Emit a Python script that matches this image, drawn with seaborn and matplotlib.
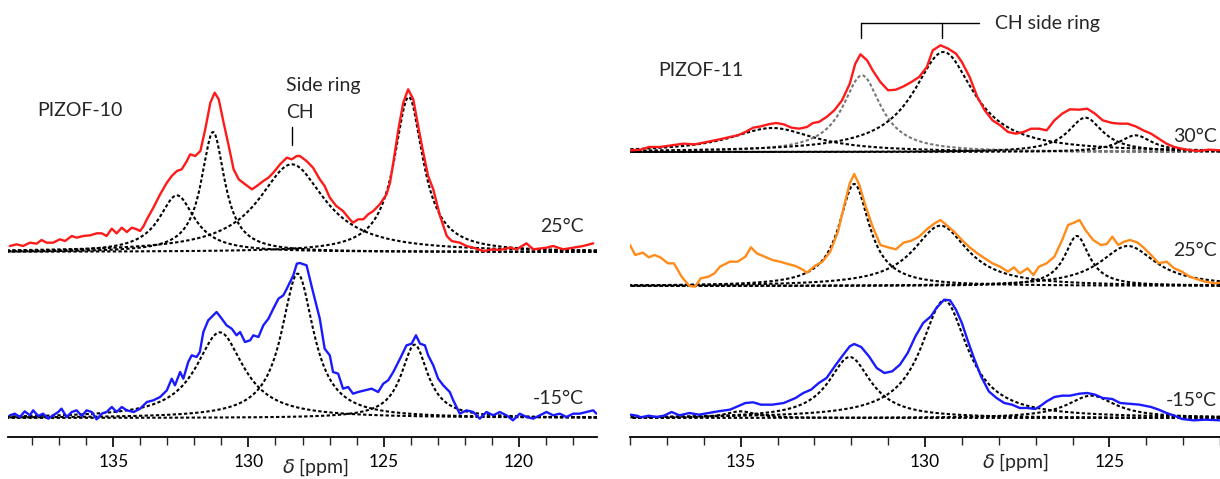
import numpy as np
import pandas as pd
import matplotlib
matplotlib.use("Agg")
import matplotlib.pyplot as plt
import seaborn as sns
from matplotlib.ticker import MultipleLocator

# ---- PIZOF-10 spectra (ppm, intensity in arbitrary units) ----
p10_25_ppm = [138.83, 138.58, 138.34, 138.09, 137.84, 137.66, 137.47, 137.23, 136.98, 136.79,
              136.54, 136.36, 136.11, 135.86, 135.62, 135.43, 135.25, 135.06, 134.88, 134.69,
              134.50, 134.32, 134.13, 134.01, 133.88, 133.76, 133.52, 133.27, 133.02, 132.84,
              132.65, 132.47, 132.28, 132.16, 131.97, 131.78, 131.60, 131.41, 131.25, 131.10,
              130.92, 130.73, 130.55, 130.36, 130.12, 129.87, 129.69, 129.45, 129.26, 129.08,
              128.83, 128.58, 128.40, 128.21, 128.10, 127.85, 127.61, 127.36, 127.18, 126.99,
              126.75, 126.50, 126.25, 126.13, 125.94, 125.75, 125.57, 125.38, 125.14, 124.89,
              124.76, 124.64, 124.45, 124.27, 124.09, 123.90, 123.72, 123.53, 123.35, 123.16,
              122.91, 122.66, 122.48, 122.18, 121.93, 121.68, 121.31, 120.94, 120.70, 120.33,
              120.08, 119.71, 119.46, 118.97, 118.72, 118.35, 117.98, 117.61, 117.24]
p10_25_int = [18, 23, 18, 28, 25, 36, 28, 28, 38, 33,
              48, 43, 48, 50, 56, 56, 48, 70, 56, 73,
              60, 73, 68, 63, 78, 98, 133, 173, 208, 228,
              243, 248, 273, 293, 288, 303, 368, 448, 478, 458,
              388, 318, 248, 218, 203, 188, 198, 213, 223, 238,
              263, 283, 278, 288, 288, 273, 253, 218, 198, 163,
              138, 123, 98, 88, 98, 98, 113, 123, 143, 173,
              208, 268, 368, 448, 488, 458, 378, 298, 228, 188,
              108, 48, 33, 28, 18, 13, 3, 8, 6, 13,
              8, 26, 8, 13, 18, 8, 13, 18, 26]

p10_m15_ppm = [138.83, 138.65, 138.46, 138.28, 138.09, 137.97, 137.78, 137.60, 137.41, 137.23,
               137.04, 136.92, 136.73, 136.54, 136.36, 136.17, 135.99, 135.80, 135.62, 135.43,
               135.25, 135.06, 134.88, 134.69, 134.50, 134.25, 134.01, 133.76, 133.52, 133.27,
               133.02, 132.84, 132.72, 132.53, 132.41, 132.23, 132.10, 131.92, 131.80, 131.67,
               131.49, 131.18, 130.99, 130.81, 130.62, 130.44, 130.31, 130.13, 129.94, 129.82,
               129.63, 129.45, 129.26, 129.08, 128.89, 128.71, 128.58, 128.34, 128.21, 128.10,
               127.85, 127.61, 127.36, 127.18, 126.99, 126.87, 126.68, 126.50, 126.31, 126.13,
               125.94, 125.69, 125.44, 125.20, 125.01, 124.83, 124.64, 124.39, 124.15, 123.96,
               123.80, 123.65, 123.47, 123.35, 123.16, 122.98, 122.79, 122.55, 122.42, 122.30,
               122.18, 121.93, 121.68, 121.44, 121.19, 120.94, 120.70, 120.45, 120.21, 119.96,
               119.71, 119.46, 119.22, 118.97, 118.72, 118.48, 118.23, 117.98, 117.74, 117.49,
               117.24, 117.12]
p10_m15_int = [8, 13, 3, 20, 8, 23, 6, 13, -2, 8,
               18, 28, 3, 18, 23, 6, 23, 18, -4, 13,
               18, 33, 18, 33, 23, 18, 28, 48, 53, 63,
               83, 118, 98, 138, 118, 168, 188, 183, 198, 258,
               293, 318, 298, 278, 268, 248, 258, 228, 233, 248,
               243, 278, 298, 328, 358, 368, 388, 428, 463, 465,
               458, 378, 298, 208, 188, 138, 133, 88, 93, 73,
               78, 83, 88, 78, 103, 113, 138, 178, 218, 223,
               248, 223, 218, 188, 158, 118, 98, 78, 53, 33,
               13, 23, 18, -2, 18, 8, 18, 8, -7, 13,
               3, -2, 8, 18, 8, 13, 3, 13, 13, 18,
               23, 13]

# ---- PIZOF-11 spectra ----
p11_30_ppm = [137.98, 137.70, 137.49, 137.18, 136.87, 136.55, 136.24, 135.92, 135.61, 135.29,
              135.08, 134.87, 134.66, 134.45, 134.25, 134.04, 133.83, 133.62, 133.41, 133.20,
              133.04, 132.88, 132.67, 132.46, 132.25, 132.04, 131.89, 131.75, 131.57, 131.42,
              131.21, 131.00, 130.79, 130.58, 130.37, 130.16, 129.95, 129.79, 129.58, 129.37,
              129.16, 129.00, 128.79, 128.58, 128.38, 128.17, 127.96, 127.75, 127.54, 127.33,
              127.12, 126.91, 126.70, 126.49, 126.28, 126.07, 125.81, 125.60, 125.39, 125.18,
              124.92, 124.71, 124.50, 124.29, 124.08, 123.87, 123.66, 123.45, 123.24, 122.92,
              122.61, 122.30, 121.98]
p11_30_int = [5, 7, 15, 15, 20, 25, 23, 30, 37, 45,
              50, 60, 73, 77, 83, 87, 83, 73, 70, 75,
              87, 90, 105, 125, 155, 205, 265, 293, 275, 245,
              210, 185, 187, 197, 210, 225, 255, 305, 320, 310,
              295, 270, 225, 165, 125, 95, 80, 60, 55, 60,
              70, 70, 65, 95, 115, 128, 127, 130, 115, 95,
              87, 85, 85, 77, 65, 55, 40, 25, 15, 7,
              3, 7, 5]

p11_25_ppm = [138.0, 137.86, 137.65, 137.49, 137.34, 137.18, 136.97, 136.81, 136.60, 136.39,
              136.24, 136.08, 135.87, 135.71, 135.56, 135.29, 135.08, 134.87, 134.72, 134.56,
              134.35, 134.14, 133.93, 133.72, 133.51, 133.30, 133.20, 132.99, 132.78, 132.57,
              132.36, 132.20, 132.04, 131.92, 131.78, 131.62, 131.42, 131.21, 131.00, 130.79,
              130.58, 130.37, 130.16, 129.95, 129.74, 129.58, 129.42, 129.21, 129.00, 128.79,
              128.58, 128.38, 128.17, 127.96, 127.75, 127.59, 127.43, 127.22, 127.06, 126.91,
              126.70, 126.49, 126.28, 126.12, 125.96, 125.81, 125.65, 125.44, 125.23, 125.07,
              124.92, 124.76, 124.60, 124.44, 124.23, 124.08, 123.87, 123.66, 123.45, 123.24,
              123.03, 122.82, 122.61, 122.40, 122.14, 121.98]
p11_25_int = [123, 93, 100, 86, 93, 86, 68, 68, 28, 0,
              -2, 23, 28, 38, 58, 73, 73, 88, 116, 98,
              88, 78, 73, 66, 60, 48, 40, 60, 73, 103,
              163, 238, 308, 336, 303, 243, 178, 123, 116, 110,
              130, 136, 148, 170, 188, 198, 183, 163, 138, 116,
              98, 83, 68, 58, 43, 56, 38, 53, 33, 58,
              68, 88, 138, 183, 190, 198, 168, 138, 123, 126,
              148, 123, 133, 138, 130, 116, 93, 68, 73, 53,
              43, 28, 20, 13, 8, 10]

p11_m15_ppm = [138.0, 137.81, 137.70, 137.49, 137.29, 137.08, 136.87, 136.66, 136.39, 136.13,
               135.87, 135.61, 135.29, 135.08, 134.87, 134.66, 134.45, 134.14, 133.83, 133.51,
               133.30, 133.09, 132.88, 132.67, 132.46, 132.25, 132.04, 131.92, 131.73, 131.52,
               131.31, 131.10, 130.89, 130.68, 130.47, 130.26, 130.05, 129.84, 129.69, 129.48,
               129.32, 129.16, 129.00, 128.85, 128.69, 128.48, 128.27, 128.06, 127.85, 127.64,
               127.43, 127.22, 127.01, 126.86, 126.70, 126.49, 126.28, 126.07, 125.81, 125.60,
               125.39, 125.18, 124.92, 124.71, 124.50, 124.18, 123.87, 123.66, 123.45, 123.24,
               123.03, 122.71, 122.40, 121.98]
p11_m15_int = [10, 7, 2, 7, 3, 7, 18, 8, 15, 10,
               15, 20, 25, 35, 45, 47, 40, 40, 45, 60,
               75, 85, 105, 120, 153, 185, 215, 222, 213, 185,
               150, 135, 140, 160, 195, 245, 285, 305, 330, 355,
               353, 325, 285, 235, 185, 125, 80, 60, 45, 40,
               30, 30, 27, 37, 50, 63, 67, 67, 73, 75,
               70, 60, 57, 45, 43, 40, 33, 25, 15, 7,
               -3, -7, -5, -7]

# fitted Lorentzian components: (centre ppm, height, FWHM ppm)
fit_p10_25 = [(132.65, 170, 1.6), (131.31, 360, 1.05), (128.4, 263, 3.0), (124.07, 465, 1.3)]
fit_p10_m15 = [(131.06, 257, 2.15), (128.18, 433, 1.45), (123.85, 220, 1.2)]
fit_p11_30 = [(134.14, 72, 2.8), (131.71, 230, 1.26), (129.50, 300, 2.0),
              (125.65, 103, 1.15), (124.29, 50, 1.1)]
fit_p11_25 = [(131.92, 306, 1.0), (129.58, 181, 1.8), (125.88, 150, 0.82), (124.50, 120, 1.84)]
fit_p11_m15 = [(135.0, 20, 1.0), (132.04, 183, 1.4), (129.48, 353, 1.54), (125.49, 67, 1.6)]

sns.set_style("white")
plt.rcParams['font.family'] = ['Lato', 'DejaVu Sans']

fig = plt.figure(figsize=(12.2, 4.79), dpi=100)
W, H = 1220, 479
ax1 = fig.add_axes([8 / W, 42 / H, 589 / W, 437 / H])
ax2 = fig.add_axes([630 / W, 42 / H, 590 / W, 437 / H])

SCALE = 1 / 3.0
red = '#ff1a1a'
blue = '#1a1aff'
orange = '#ff8c1a'


def lorentz(x, c, h, w):
    return h / (1 + ((x - c) / (w / 2)) ** 2)


def draw(ax, ppm, inten, fits, base, color, lo, hi, gray_idx=None):
    grid = np.linspace(lo, hi, 800)
    for i, (c, h, w) in enumerate(fits):
        col = '#777777' if i == gray_idx else 'black'
        ax.plot(grid, base + lorentz(grid, c, h, w) * SCALE, color=col,
                lw=1.5, ls=(0, (1.6, 1.1)))
    df = pd.DataFrame({'ppm': ppm, 'y': base + np.array(inten) * SCALE})
    sns.lineplot(data=df, x='ppm', y='y', ax=ax, color=color, lw=1.7,
                 estimator=None, sort=False)


draw(ax1, p10_25_ppm, p10_25_int, fit_p10_25, 185, red, 117.1, 138.9)
draw(ax1, p10_m15_ppm, p10_m15_int, fit_p10_m15, 19, blue, 117.1, 138.9)
draw(ax2, p11_30_ppm, p11_30_int, fit_p11_30, 285, red, 122.0, 138.0, gray_idx=1)
draw(ax2, p11_25_ppm, p11_25_int, fit_p11_25, 151, orange, 122.0, 138.0)
draw(ax2, p11_m15_ppm, p11_m15_int, fit_p11_m15, 19, blue, 122.0, 138.0)

for ax, (xa, xb) in [(ax1, (138.9, 117.1)), (ax2, (138.0, 122.0))]:
    ax.set_xlim(xa, xb)
    ax.set_ylim(0, 437)
    for s in ['top', 'left', 'right']:
        ax.spines[s].set_visible(False)
    ax.spines['bottom'].set_color('black')
    ax.spines['bottom'].set_linewidth(1.3)
    ax.xaxis.set_major_locator(MultipleLocator(5))
    ax.xaxis.set_minor_locator(MultipleLocator(1))
    ax.tick_params(axis='x', which='major', length=7, width=1.2, labelsize=12.5,
                   pad=5, bottom=True, colors='black')
    ax.tick_params(axis='x', which='minor', length=6, width=1.0, bottom=True)
    ax.set_yticks([])
    ax.set_xlabel('')
    ax.set_ylabel('')
    ax.patch.set_alpha(0)

fs = 14
# PIZOF-10 labels
ax1.text(137.8, 327, 'PIZOF-10', fontsize=fs, va='center', ha='left')
ax1.text(128.6, 351, 'Side ring', fontsize=fs, va='center', ha='left')
ax1.text(128.6, 324, 'CH', fontsize=fs, va='center', ha='left')
ax1.plot([128.4, 128.4], [292, 310], color='black', lw=1)
ax1.text(117.6, 210, '25°C', fontsize=fs, va='center', ha='right')
ax1.text(117.6, 39, '-15°C', fontsize=fs, va='center', ha='right')
ax1.text(127.5, -30, r'$\delta$ [ppm]', fontsize=fs, va='center', ha='center')

# PIZOF-11 labels
ax2.text(137.23, 367, 'PIZOF-11', fontsize=fs, va='center', ha='left')
ax2.text(128.11, 414, 'CH side ring', fontsize=fs, va='center', ha='left')
ax2.plot([131.73, 128.53], [414, 414], color='black', lw=1)
ax2.plot([131.73, 131.73], [414, 399], color='black', lw=1)
ax2.plot([129.53, 129.53], [414, 399], color='black', lw=1)
ax2.text(122.09, 300, '30°C', fontsize=fs, va='center', ha='right')
ax2.text(122.09, 187, '25°C', fontsize=fs, va='center', ha='right')
ax2.text(122.09, 37, '-15°C', fontsize=fs, va='center', ha='right')
ax2.text(127.54, -25, r'$\delta$ [ppm]', fontsize=fs, va='center', ha='center')

fig.savefig('out.png', dpi=100)
plt.close(fig)
